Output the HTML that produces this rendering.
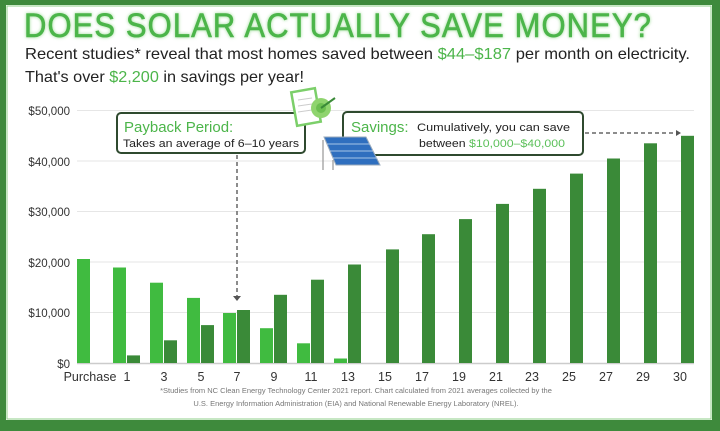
<!DOCTYPE html>
<html><head><meta charset="utf-8"><style>
html,body{margin:0;padding:0;background:#fff}
svg{display:block}
text{font-family:"Liberation Sans",sans-serif}
</style></head><body>
<svg width="720" height="431" viewBox="0 0 720 431" xmlns="http://www.w3.org/2000/svg">
<defs><filter id="glow" x="-5%" y="-30%" width="110%" height="160%"><feGaussianBlur stdDeviation="1.5"/></filter></defs>
<rect x="0" y="0" width="720" height="431" fill="#3e8a3c"/>
<rect x="6" y="5" width="706" height="415" fill="#fff"/>
<rect x="7" y="6" width="704" height="413" fill="none" stroke="#8fcf8a" stroke-width="1"/>
<g font-size="34" letter-spacing="1.2">
<text x="24" y="37" fill="#a6e0a0" stroke="#a6e0a0" stroke-width="1" filter="url(#glow)" textLength="628" lengthAdjust="spacingAndGlyphs">DOES SOLAR ACTUALLY SAVE MONEY?</text>
<text x="24" y="37" fill="#4cb54a" stroke="#4cb54a" stroke-width="0.6" textLength="628" lengthAdjust="spacingAndGlyphs">DOES SOLAR ACTUALLY SAVE MONEY?</text>
</g>
<text x="25" y="59" font-size="16" fill="#222" textLength="665" lengthAdjust="spacingAndGlyphs">Recent studies* reveal that most homes saved between <tspan fill="#4cb54a">$44–$187</tspan> per month on electricity.</text>
<text x="25" y="82" font-size="16" fill="#222" textLength="279" lengthAdjust="spacingAndGlyphs">That's over <tspan fill="#4cb54a">$2,200</tspan> in savings per year!</text>
<g stroke="#e6e6e6" stroke-width="1">
<line x1="77" y1="110.5" x2="694" y2="110.5"/><line x1="77" y1="161" x2="694" y2="161"/><line x1="77" y1="211.5" x2="694" y2="211.5"/><line x1="77" y1="262" x2="694" y2="262"/><line x1="77" y1="312.5" x2="694" y2="312.5"/>
</g>
<line x1="77" y1="363.5" x2="694" y2="363.5" stroke="#ccc" stroke-width="1.5"/>
<g font-size="11.5" fill="#333" text-anchor="end">
<text x="70" y="115">$50,000</text><text x="70" y="166">$40,000</text><text x="70" y="216">$30,000</text><text x="70" y="267">$20,000</text><text x="70" y="317">$10,000</text><text x="70" y="368">$0</text>
</g>
<g fill="#40bb40">
<rect x="77" y="259" width="13" height="104"/>
<rect x="113" y="267.5" width="13" height="95.5"/>
<rect x="150" y="282.7" width="13" height="80.3"/>
<rect x="187" y="297.9" width="13" height="65.1"/>
<rect x="223" y="313" width="13" height="50"/>
<rect x="260" y="328.2" width="13" height="34.8"/>
<rect x="297" y="343.3" width="13" height="19.7"/>
<rect x="334" y="358.5" width="13" height="4.5"/>
</g>
<g fill="#3a8a38">
<rect x="127" y="355.4" width="13" height="7.6"/>
<rect x="164" y="340.3" width="13" height="22.7"/>
<rect x="201" y="325.1" width="13" height="37.9"/>
<rect x="237" y="310" width="13" height="53"/>
<rect x="274" y="294.8" width="13" height="68.2"/>
<rect x="311" y="279.7" width="13" height="83.3"/>
<rect x="348" y="264.5" width="13" height="98.5"/>
<rect x="386" y="249.4" width="13" height="113.6"/>
<rect x="422" y="234.2" width="13" height="128.8"/>
<rect x="459" y="219.1" width="13" height="143.9"/>
<rect x="496" y="203.9" width="13" height="159.1"/>
<rect x="533" y="188.8" width="13" height="174.2"/>
<rect x="570" y="173.6" width="13" height="189.4"/>
<rect x="607" y="158.5" width="13" height="204.5"/>
<rect x="644" y="143.3" width="13" height="219.7"/>
<rect x="681" y="135.8" width="13" height="227.2"/>
</g>
<g font-size="12.5" fill="#333" text-anchor="middle">
<text x="90" y="381">Purchase</text><text x="127" y="381">1</text><text x="164" y="381">3</text><text x="201" y="381">5</text><text x="237" y="381">7</text><text x="274" y="381">9</text><text x="311" y="381">11</text><text x="348" y="381">13</text><text x="385" y="381">15</text><text x="422" y="381">17</text><text x="459" y="381">19</text><text x="496" y="381">21</text><text x="532" y="381">23</text><text x="569" y="381">25</text><text x="606" y="381">27</text><text x="643" y="381">29</text><text x="680" y="381">30</text>
</g>
<g font-size="7.5" fill="#777" text-anchor="middle">
<text x="356" y="393">*Studies from NC Clean Energy Technology Center 2021 report. Chart calculated from 2021 averages collected by the</text>
<text x="356" y="406">U.S. Energy Information Administration (EIA) and National Renewable Energy Laboratory (NREL).</text>
</g>
<rect x="117" y="113" width="188" height="40" rx="4" fill="#fff" stroke="#2f4a2f" stroke-width="2"/>
<text x="124" y="132" font-size="15" fill="#4cb54a">Payback Period:</text>
<text x="123" y="147" font-size="11" fill="#222" textLength="176" lengthAdjust="spacingAndGlyphs">Takes an average of 6–10 years</text>
<line x1="237" y1="155" x2="237" y2="297" stroke="#666" stroke-width="1.5" stroke-dasharray="4,3"/>
<polygon points="233,296 241,296 237,301" fill="#555"/>
<rect x="343" y="112" width="240" height="43" rx="4" fill="#fff" stroke="#2f4a2f" stroke-width="2"/>
<text x="351" y="132" font-size="15" fill="#4cb54a">Savings:</text>
<text x="417" y="131" font-size="11" fill="#222" textLength="153" lengthAdjust="spacingAndGlyphs">Cumulatively, you can save</text>
<text x="419" y="147" font-size="11" fill="#222" textLength="146" lengthAdjust="spacingAndGlyphs">between <tspan fill="#5cc05a">$10,000–$40,000</tspan></text>
<line x1="585" y1="133" x2="676" y2="133" stroke="#666" stroke-width="1.5" stroke-dasharray="4,3"/>
<polygon points="676,130 676,136 681,133" fill="#555"/>
<rect x="294" y="90" width="24" height="34" fill="#fff" stroke="#7ccf6a" stroke-width="2.5" transform="rotate(-10 306 107)"/>
<line x1="298" y1="100" x2="312" y2="98" stroke="#ccc"/><line x1="298" y1="106" x2="312" y2="104" stroke="#ccc"/><line x1="298" y1="112" x2="312" y2="110" stroke="#ccc"/>
<circle cx="321" cy="108" r="10" fill="#8fd46e"/><circle cx="321" cy="108" r="5" fill="#6cbf50"/>
<line x1="321" y1="108" x2="335" y2="98" stroke="#3a8a38" stroke-width="2"/>
<polygon points="324,137 366,137 380,165 336,165" fill="#2f6fbf" stroke="#9ab" stroke-width="1"/>
<g stroke="#cfe0f5" stroke-width="0.7"><line x1="327" y1="144" x2="370" y2="144"/><line x1="330" y1="151" x2="373" y2="151"/><line x1="333" y1="158" x2="377" y2="158"/></g>
<line x1="323" y1="140" x2="323" y2="170" stroke="#aaa" stroke-width="1.5"/><line x1="333" y1="160" x2="333" y2="170" stroke="#aaa" stroke-width="1.5"/>
</svg>
</body></html>
